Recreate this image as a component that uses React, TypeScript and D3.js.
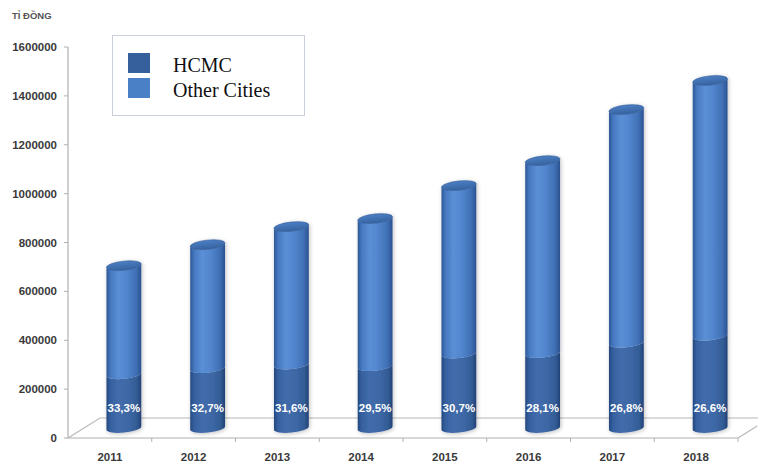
import React from "react";
import * as d3 from "d3";

const years = ["2011", "2012", "2013", "2014", "2015", "2016", "2017", "2018"];
const hcmc = [220000, 245000, 260000, 253000, 305000, 307000, 349000, 378000];
const otherCities = [444000, 505000, 564000, 604000, 687000, 787000, 954000, 1044000];
const pctLabels = ["33,3%", "32,7%", "31,6%", "29,5%", "30,7%", "28,1%", "26,8%", "26,6%"];
const yTicks = [0, 200000, 400000, 600000, 800000, 1000000, 1200000, 1400000, 1600000];
const seriesNames = ["HCMC", "Other Cities"];

const W = 758;
const H = 463;
const AXIS_X = 68;
const RIGHT_X = 738;
const DEPTH_X = 32;
const DEPTH_Y = 20;

export default function App() {
  const y = d3.scaleLinear().domain([0, 1600000]).range([438, 47]);
  const x = d3.scaleBand<string>().domain(years).range([AXIS_X, RIGHT_X]).padding(0);
  const bw = x.bandwidth();
  const r = 17.5;
  const ry = 4.6;
  const rot = -6;
  const th = (rot * Math.PI) / 180;
  const dxE = r * Math.cos(th);
  const dyE = r * Math.sin(th);
  const barShift = 14;
  const depthLift = 10;

  const stacked = years.map((yr, i) => ({
    yr,
    cx: (x(yr) as number) + bw / 2 + barShift,
    h: hcmc[i],
    o: otherCities[i],
    pct: pctLabels[i],
  }));

  const segPath = (cx: number, v0: number, v1: number) => {
    const yb = y(v0) - depthLift;
    const yt = y(v1) - depthLift;
    const lb = [cx - dxE, yb - dyE];
    const rb = [cx + dxE, yb + dyE];
    const lt = [cx - dxE, yt - dyE];
    const rt = [cx + dxE, yt + dyE];
    return `M${lb[0]},${lb[1]} L${lt[0]},${lt[1]} A${r},${ry} ${rot} 0 0 ${rt[0]},${rt[1]} L${rb[0]},${rb[1]} A${r},${ry} ${rot} 0 1 ${lb[0]},${lb[1]} Z`;
  };

  const y0 = y(0);
  const floor = `M${AXIS_X},${y0} L${AXIS_X + DEPTH_X},${y0 - DEPTH_Y} L${W + 20},${y0 - DEPTH_Y}`;
  const floorRight = `M${RIGHT_X},${y0} L${RIGHT_X + DEPTH_X * 0.6},${y0 - DEPTH_Y * 0.6}`;

  return (
    <svg width={W} height={H} style={{ position: "absolute", left: 0, top: 0, background: "#fff" }}
      xmlns="http://www.w3.org/2000/svg">
      <defs>
        <linearGradient id="gOther" x1="0" x2="1" y1="0" y2="0">
          <stop offset="0%" stopColor="#2d5794" />
          <stop offset="12%" stopColor="#4679c1" />
          <stop offset="35%" stopColor="#5b8fd6" />
          <stop offset="60%" stopColor="#5084cc" />
          <stop offset="85%" stopColor="#4070b5" />
          <stop offset="100%" stopColor="#2a5190" />
        </linearGradient>
        <linearGradient id="gHcmc" x1="0" x2="1" y1="0" y2="0">
          <stop offset="0%" stopColor="#24487f" />
          <stop offset="12%" stopColor="#3661a0" />
          <stop offset="35%" stopColor="#426cab" />
          <stop offset="65%" stopColor="#3d67a5" />
          <stop offset="88%" stopColor="#325b93" />
          <stop offset="100%" stopColor="#224176" />
        </linearGradient>
        <linearGradient id="gTop" x1="0" x2="0" y1="0" y2="1">
          <stop offset="0%" stopColor="#4c7fc4" />
          <stop offset="100%" stopColor="#35629f" />
        </linearGradient>
        <filter id="shadow" x="-30%" y="-10%" width="160%" height="120%">
          <feGaussianBlur in="SourceAlpha" stdDeviation="2" />
          <feOffset dx="1" dy="1" />
          <feComponentTransfer>
            <feFuncA type="linear" slope="0.25" />
          </feComponentTransfer>
          <feMerge>
            <feMergeNode />
            <feMergeNode in="SourceGraphic" />
          </feMerge>
        </filter>
      </defs>

      <text x={12} y={19} fontFamily="Arial, 'Liberation Sans', sans-serif" fontSize={9.5} fontWeight="bold" fill="#555">
        TỈ ĐỒNG
      </text>

      {/* floor */}
      <path d={floor} fill="none" stroke="#b8b8b8" strokeWidth={1.2} />
      <path d={floorRight} fill="none" stroke="#b8b8b8" strokeWidth={1.2} />
      <line x1={AXIS_X} x2={RIGHT_X} y1={y0} y2={y0} stroke="#b0b0b0" strokeWidth={1.2} />

      {/* y axis */}
      <line x1={AXIS_X} x2={AXIS_X} y1={y(1600000)} y2={y0} stroke="#b0b0b0" strokeWidth={1.2} />
      {yTicks.map((t) => (
        <g key={t}>
          <line x1={AXIS_X - 4} x2={AXIS_X} y1={y(t)} y2={y(t)} stroke="#b0b0b0" strokeWidth={1} />
          <text x={57} y={y(t) + 4} textAnchor="end" fontFamily="Arial, 'Liberation Sans', sans-serif"
            fontSize={11.5} fontWeight="bold" fill="#3a3a3a">
            {t}
          </text>
        </g>
      ))}

      {/* x ticks */}
      {years.map((yr) => (
        <line key={"t" + yr} x1={(x(yr) as number) + bw} x2={(x(yr) as number) + bw} y1={y0} y2={y0 + 4}
          stroke="#b0b0b0" strokeWidth={1} />
      ))}
      {years.map((yr) => (
        <text key={"l" + yr} x={(x(yr) as number) + bw / 2} y={461} textAnchor="middle"
          fontFamily="Arial, 'Liberation Sans', sans-serif" fontSize={11.5} fontWeight="bold" fill="#3a3a3a">
          {yr}
        </text>
      ))}

      {/* bars */}
      {stacked.map((d) => {
        const total = d.h + d.o;
        const ytop = y(total) - depthLift;
        return (
          <g key={d.yr} filter="url(#shadow)">
            <path d={segPath(d.cx, 0, d.h)} fill="url(#gHcmc)" />
            <path d={segPath(d.cx, d.h, total)} fill="url(#gOther)" />
            <ellipse cx={d.cx} cy={ytop} rx={r} ry={ry} transform={`rotate(${rot},${d.cx},${ytop})`}
              fill="url(#gTop)" stroke="#2e5a98" strokeWidth={0.6} />
          </g>
        );
      })}
      {stacked.map((d) => (
        <text key={"p" + d.yr} x={d.cx} y={412} textAnchor="middle"
          fontFamily="Arial, 'Liberation Sans', sans-serif" fontSize={11.5} fontWeight="bold" fill="#fff">
          {d.pct}
        </text>
      ))}

      {/* legend */}
      <rect x={112.5} y={35.5} width={192} height={80} fill="#fff" stroke="#c9d0db" strokeWidth={1} />
      {seriesNames.map((s, i) => (
        <g key={s}>
          <rect x={128} y={53 + i * 25} width={22} height={20} fill={i === 0 ? "#35609c" : "#4a80c6"} />
          <text x={173} y={72 + i * 25} fontFamily="'Liberation Serif', 'Times New Roman', serif" fontSize={20} fill="#111">
            {s}
          </text>
        </g>
      ))}
    </svg>
  );
}
